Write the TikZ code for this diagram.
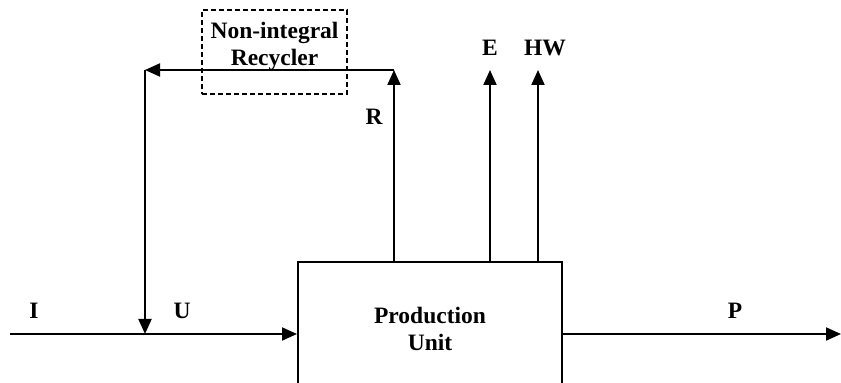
\documentclass[tikz,border=0pt]{standalone}
\usepackage{fontspec}
\setmainfont{Liberation Serif}
\usepackage{tikz}
\usetikzlibrary{arrows.meta,positioning,calc}
\tikzset{
  >={Triangle[length=7.5pt,width=6.5pt]},
  unitbox/.style={draw,line width=1pt,minimum width=132pt,minimum height=66.5pt,inner sep=0pt,align=center},
  recbox/.style={draw,dashed,dash pattern=on 2.5pt off 1.5pt,line width=1pt,minimum width=72.5pt,minimum height=42pt,inner sep=0pt},
  lab/.style={font=\fontsize{11.75}{13.5}\selectfont\bfseries,align=center,inner sep=0pt},
  arr/.style={->,line width=1pt},
}
\begin{document}
\begin{tikzpicture}[x=0.5pt,y=-0.5pt,every node/.style={font=\fontsize{11.75}{13.5}\selectfont\bfseries}]
\clip (0,0) rectangle (841,383);
% production unit (bottom edge runs off the page)
\node[unitbox] (pu) at (430,328.5) {Production\\Unit};
% recycler
\node[recbox] (rec) at (274.5,52) {};
\node[lab] (reclab) at ([yshift=3pt]rec.center) {Non-integral\\Recycler};
% branch points
\coordinate (jr) at (394,70);
\coordinate (jl) at (145,70);
\coordinate (jd) at (145,334);
\coordinate (in) at (10,334);
\coordinate (out) at (841,334);
\coordinate (e) at (490,70);
\coordinate (hw) at (538,70);
% flows
\draw[arr] (in) -- (pu.west |- in);
\draw[arr] (pu.east |- out) -- (out);
\draw[arr] (pu.north -| jr) -- (jr);
\draw[arr] (jr) -- (jl);
\draw[arr] (jl) -- (jd);
\draw[arr] (pu.north -| e) -- (e);
\draw[arr] (pu.north -| hw) -- (hw);
% labels
\node[lab] (li) at (34,311) {I};
\node[lab] (lu) at (182,311) {U};
\node[lab] (lp) at (735,311) {P};
\node[lab] (lr) at (374,117) {R};
\node[lab] (le) at (490,48) {E};
\node[lab] (lhw) at (545,48) {HW};
\end{tikzpicture}
\end{document}
